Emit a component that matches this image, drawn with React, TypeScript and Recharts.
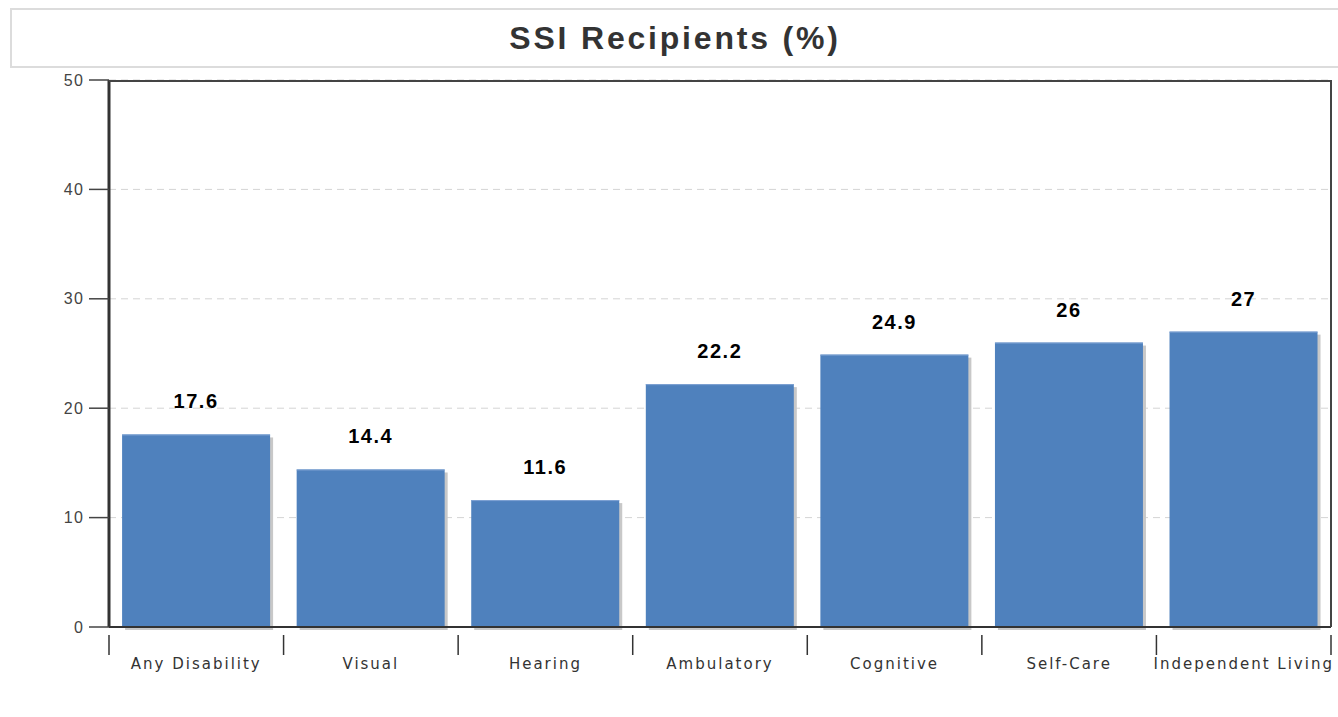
import { BarChart, Bar, XAxis, YAxis, CartesianGrid, LabelList } from 'recharts'

const categories = ['Any Disability', 'Visual', 'Hearing', 'Ambulatory', 'Cognitive', 'Self-Care', 'Independent Living']
const values = [17.6, 14.4, 11.6, 22.2, 24.9, 26, 27]
const yTicks = [0, 10, 20, 30, 40, 50]

const data = categories.map((name, i) => ({ name, value: values[i] }))

const PLOT_LEFT = 109
const PLOT_RIGHT = 1331
const PLOT_TOP = 80
const PLOT_BOTTOM = 627
const BAND = (PLOT_RIGHT - PLOT_LEFT) / categories.length

const ShadowBar = (props: any) => {
    const { x, y, width, height } = props
    return (
        <g>
            <rect x={x + 3} y={y + 3} width={width} height={height} fill="#c8c8c8" />
            <rect x={x} y={y} width={width} height={height} fill="#4f81bd" />
            <line x1={x} x2={x + width} y1={y + 0.5} y2={y + 0.5} stroke="#7fa3d3" strokeWidth={1} />
        </g>
    )
}

const XTick = (props: any) => {
    const { x, y, payload, index } = props
    const left = x - BAND / 2
    const last = index === categories.length - 1
    return (
        <g>
            <line x1={left} x2={left} y1={y} y2={y + 20} stroke="#333" strokeWidth={1.5} />
            {last && <line x1={x + BAND / 2} x2={x + BAND / 2} y1={y} y2={y + 20} stroke="#333" strokeWidth={1.5} />}
            <text
                x={x}
                y={y + 34}
                textAnchor="middle"
                fill="#333"
                fontSize={15}
                letterSpacing={2}
                fontFamily="DejaVu Sans, Verdana, sans-serif"
            >
                {payload.value}
            </text>
        </g>
    )
}

export default function App() {
    return (
        <div style={{ position: 'relative', width: 1338, height: 717, background: '#fff', overflow: 'hidden' }}>
            <style>{`body{margin:0}`}</style>
            <div
                style={{
                    position: 'absolute',
                    left: 10,
                    top: 8,
                    width: 1340,
                    height: 60,
                    border: '2px solid #dcdcdc',
                    boxSizing: 'border-box',
                }}
            />
            <div
                style={{
                    position: 'absolute',
                    left: 0,
                    width: 1350,
                    top: 20,
                    textAlign: 'center',
                    fontFamily: 'Liberation Sans, Arial, sans-serif',
                    fontWeight: 'bold',
                    fontSize: 32,
                    letterSpacing: 2.8,
                    color: '#333',
                }}
            >
                SSI Recipients (%)
            </div>
            <BarChart
                width={1338}
                height={717}
                data={data}
                margin={{ top: PLOT_TOP, right: 1338 - PLOT_RIGHT, bottom: 0, left: 0 }}
                barCategoryGap="7.5%"
                style={{ position: 'absolute', left: 0, top: 0 }}
            >
                <CartesianGrid vertical={false} stroke="#d4d4d4" strokeDasharray="7 5" />
                <XAxis
                    dataKey="name"
                    height={717 - PLOT_BOTTOM}
                    tick={<XTick />}
                    tickLine={false}
                    axisLine={{ stroke: '#333', strokeWidth: 2 }}
                    interval={0}
                />
                <YAxis
                    domain={[0, 50]}
                    ticks={yTicks}
                    width={PLOT_LEFT}
                    tickSize={20}
                    tickMargin={5}
                    tickLine={{ stroke: '#444', strokeWidth: 1.5 }}
                    axisLine={{ stroke: '#333', strokeWidth: 3 }}
                    tick={{ fill: '#444', fontSize: 16, fontFamily: 'Liberation Sans, Arial, sans-serif', letterSpacing: 1.2 }}
                />
                <Bar dataKey="value" shape={<ShadowBar />} isAnimationActive={false}>
                    <LabelList
                        dataKey="value"
                        position="top"
                        offset={26}
                        fill="#000"
                        fontSize={20}
                        fontWeight="bold"
                        letterSpacing={1.5}
                        fontFamily="Liberation Sans, Arial, sans-serif"
                    />
                </Bar>
            </BarChart>
            <div
                style={{
                    position: 'absolute',
                    left: PLOT_LEFT,
                    top: PLOT_TOP,
                    width: PLOT_RIGHT - PLOT_LEFT + 1,
                    height: PLOT_BOTTOM - PLOT_TOP,
                    borderTop: '2px solid #444',
                    borderRight: '2px solid #444',
                    boxSizing: 'border-box',
                    pointerEvents: 'none',
                }}
            />
        </div>
    )
}
